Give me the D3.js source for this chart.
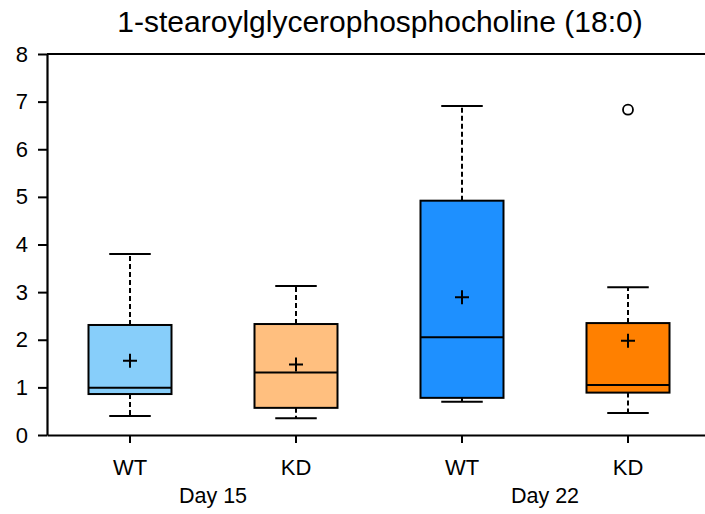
<!DOCTYPE html>
<html><head><meta charset="utf-8">
<script src="https://cdn.jsdelivr.net/npm/d3@7"></script>
<style>body{margin:0;background:#fff}svg{display:block}text{font-family:"Liberation Sans",Arial,sans-serif;fill:#000}</style>
</head><body>
<svg id="c" width="705" height="514"></svg>
<script>
const groups = ["WT15","KD15","WT22","KD22"];
const groupLabels = ["WT","KD","WT","KD"];
const dayLabels = ["Day 15","Day 22"];
const whiskerLow = [0.40, 0.35, 0.70, 0.46];
const q1 = [0.86, 0.57, 0.78, 0.89];
const median = [0.99, 1.31, 2.05, 1.05];
const q3 = [2.31, 2.33, 4.92, 2.35];
const whiskerHigh = [3.80, 3.13, 6.91, 3.10];
const means = [1.56, 1.48, 2.89, 1.98];
const outliers = [[], [], [], [6.83]];
const colors = ["#87CEFA", "#FFBF7F", "#1E90FF", "#FF8000"];
const yTicks = [0,1,2,3,4,5,6,7,8];
const title = "1-stearoylglycerophosphocholine (18:0)";

const svg = d3.select("#c");
const x = d3.scaleBand().domain(groups).range([47, 711]);
const y = d3.scaleLinear().domain([0, 8]).range([435, 54]);
const bw = x.bandwidth();

// title
svg.append("text").attr("x", 380).attr("y", 32).attr("text-anchor","middle")
  .attr("font-size", 30).text(title);

// top frame line
svg.append("line").attr("x1",47).attr("x2",711).attr("y1",y(8)).attr("y2",y(8))
  .attr("stroke","#000").attr("stroke-width",2);

// y axis
const ya = svg.append("g").attr("transform","translate(47,0)")
  .call(d3.axisLeft(y).tickValues(yTicks).tickSize(9).tickPadding(10).tickSizeOuter(0).tickFormat(d3.format("d")));
ya.select(".domain").attr("stroke-width",2.2);
ya.selectAll(".tick line").attr("stroke-width",2);
ya.selectAll(".tick text").attr("font-size",22);

// x axis
const xa = svg.append("g").attr("transform","translate(0,435)")
  .call(d3.axisBottom(x).tickSize(8).tickPadding(16).tickSizeOuter(0).tickFormat((d,i)=>groupLabels[i]));
xa.select(".domain").attr("stroke-width",2.2);
xa.selectAll(".tick line").attr("stroke-width",2);
xa.selectAll(".tick text").attr("font-size",22);

// day labels
dayLabels.forEach((d,i)=>{
  const cx = (x(groups[2*i]) + x(groups[2*i+1]) + bw) / 2;
  svg.append("text").attr("x", cx).attr("y", 503).attr("text-anchor","middle").attr("font-size",21.5).text(d);
});

const g = svg.append("g");
groups.forEach((k,i)=>{
  const cx = x(k) + bw/2;
  const boxW = bw*0.5, capW = bw*0.25;
  g.append("line").attr("x1",cx).attr("x2",cx).attr("y1",y(q3[i])).attr("y2",y(whiskerHigh[i]))
    .attr("stroke","#000").attr("stroke-width",2).attr("stroke-dasharray","5,3");
  g.append("line").attr("x1",cx).attr("x2",cx).attr("y1",y(q1[i])).attr("y2",y(whiskerLow[i]))
    .attr("stroke","#000").attr("stroke-width",2).attr("stroke-dasharray","5,3");
  [whiskerHigh[i], whiskerLow[i]].forEach(v=>{
    g.append("line").attr("x1",cx-capW/2).attr("x2",cx+capW/2).attr("y1",y(v)).attr("y2",y(v))
      .attr("stroke","#000").attr("stroke-width",2);
  });
  g.append("rect").attr("x",cx-boxW/2).attr("width",boxW).attr("y",y(q3[i])).attr("height",y(q1[i])-y(q3[i]))
    .attr("fill",colors[i]).attr("stroke","#000").attr("stroke-width",2);
  g.append("line").attr("x1",cx-boxW/2).attr("x2",cx+boxW/2).attr("y1",y(median[i])).attr("y2",y(median[i]))
    .attr("stroke","#000").attr("stroke-width",2);
  const my = y(means[i]);
  g.append("path").attr("d",`M${cx-7},${my}H${cx+7}M${cx},${my-7}V${my+7}`).attr("stroke","#000").attr("stroke-width",2);
  outliers[i].forEach(v=>{
    g.append("circle").attr("cx",cx).attr("cy",y(v)).attr("r",5).attr("fill","#fff").attr("stroke","#000").attr("stroke-width",1.8);
  });
});
</script>
</body></html>
